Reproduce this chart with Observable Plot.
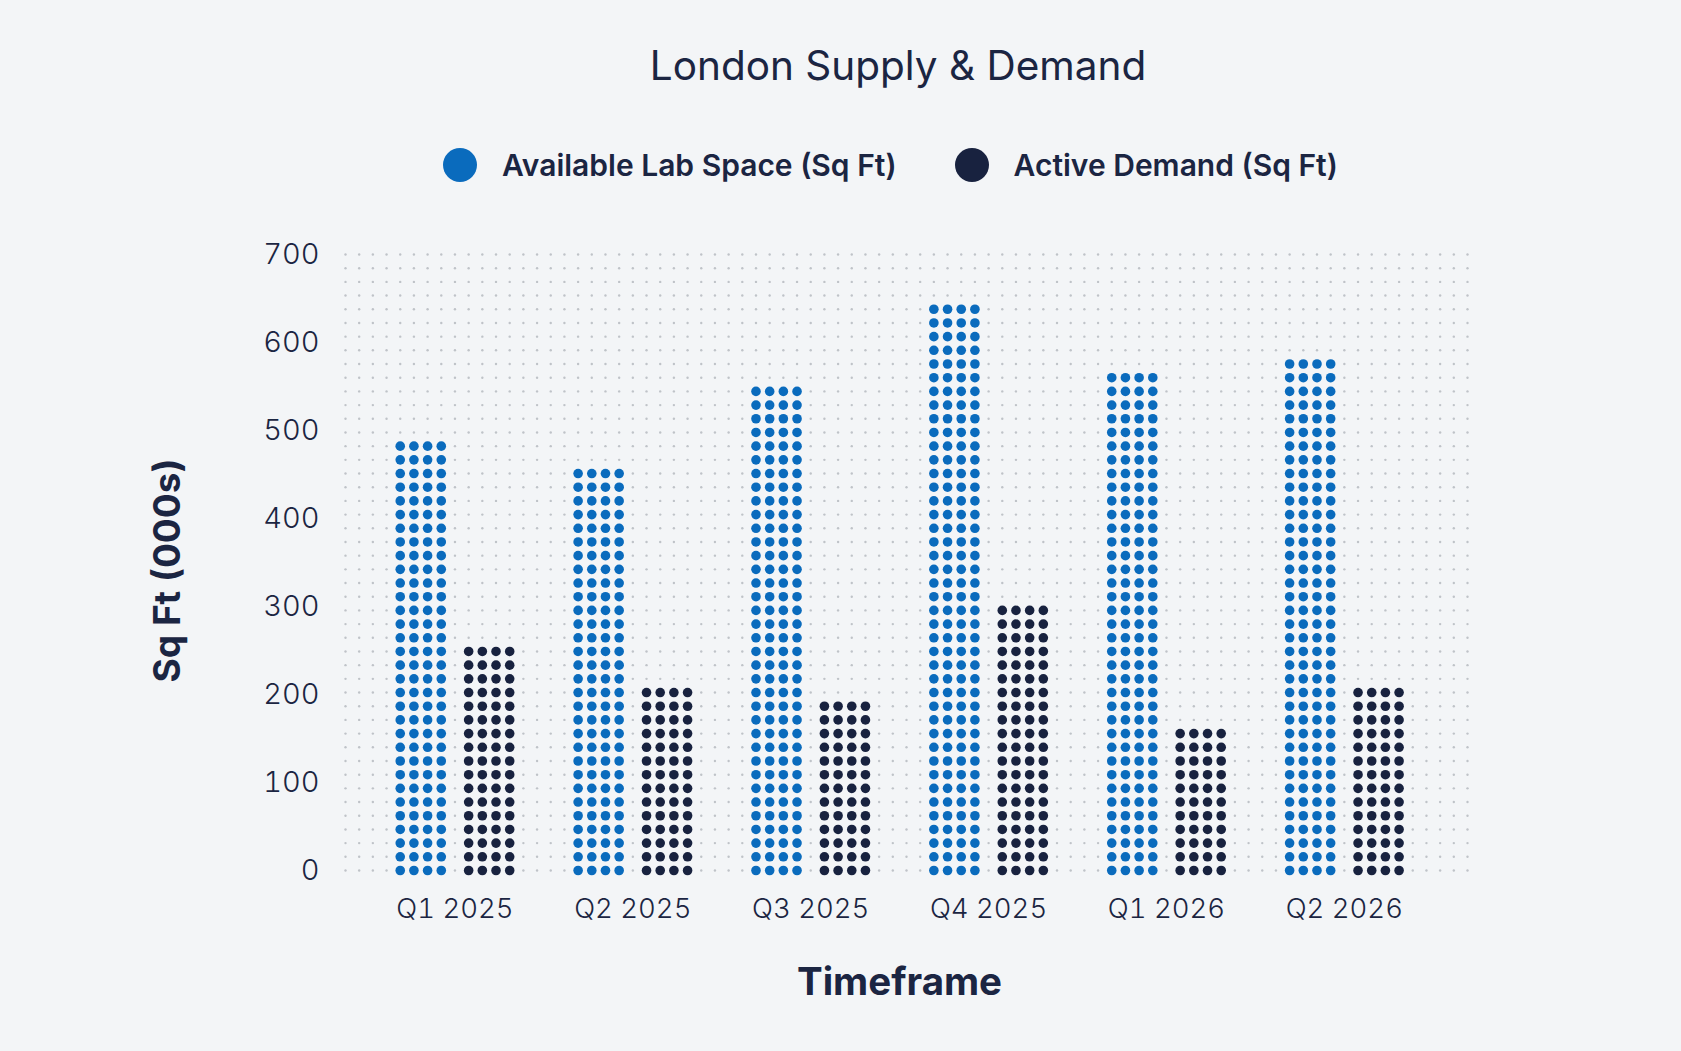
<!DOCTYPE html>
<html>
<head>
<meta charset="utf-8">
<script src="https://cdn.jsdelivr.net/npm/d3@7"></script>
<script src="https://cdn.jsdelivr.net/npm/@observablehq/plot@0.6"></script>
<style>
  html, body { margin: 0; padding: 0; background: #f3f5f7; }
  #wrap { position: relative; width: 1681px; height: 1051px; background: #f3f5f7; font-family: Inter, "Noto Sans", sans-serif; color: #1b2542; overflow: hidden; }
  #title { position: absolute; left: 898px; top: 46px; transform: translateX(-50%); font-size: 40.5px; line-height: 40px; font-weight: 400; white-space: nowrap; }
  #legend { position: absolute; left: 443px; top: 149px; display: flex; align-items: center; height: 32px; font-size: 30px; font-weight: 600; white-space: nowrap; }
  .item { display: flex; align-items: center; margin-right: 58px; }
  .sw { width: 34px; height: 34px; border-radius: 50%; margin-right: 25px; }
  #chart { position: absolute; left: 0; top: 200px; }
</style>
</head>
<body>
<div id="wrap">
  <div id="title"></div>
  <div id="legend"></div>
  <div id="chart"></div>
</div>
<script>
// ---- data ----
const titleText = "London Supply & Demand";
const quarters = ["Q1 2025", "Q2 2025", "Q3 2025", "Q4 2025", "Q1 2026", "Q2 2026"];
const availableLab = [485, 455, 545, 640, 560, 580];
const activeDemand = [250, 205, 190, 300, 160, 205];
const seriesNames = ["Available Lab Space (Sq Ft)", "Active Demand (Sq Ft)"];
const seriesColors = ["#0a6bbd", "#18223f"];
const yTicks = [0, 100, 200, 300, 400, 500, 600, 700];
const yLabel = "Sq Ft (000s)";
const xLabel = "Timeframe";

// ---- layout of the dot matrix ----
const Y_MAX = 700, ROWS = 45;          // 45 dot rows span 0..700
const UNIT = Y_MAX / ROWS;
const TOTAL_COLS = 82, FIRST_COL = 4, GROUP_COLS = 13, BAR_COLS = 4;

const seriesValues = [availableLab, activeDemand];
const dots = [];
quarters.forEach((q, i) => {
  seriesValues.forEach((vals, s) => {
    const start = FIRST_COL + i * GROUP_COLS + s * (BAR_COLS + 1);
    const top = Math.round(vals[i] / UNIT);
    for (let r = 0; r <= top; r++)
      for (let c = 0; c < BAR_COLS; c++)
        dots.push({x: start + c, y: r * UNIT, series: seriesNames[s]});
  });
});
const grid = [];
for (let c = 0; c <= TOTAL_COLS; c++)
  for (let r = 0; r <= ROWS; r++) grid.push({x: c, y: r * UNIT});

const groupCenters = quarters.map((q, i) => FIRST_COL + i * GROUP_COLS + BAR_COLS);
const centerLabel = new Map(groupCenters.map((c, i) => [c, quarters[i]]));

// ---- title and legend ----
document.getElementById("title").textContent = titleText;
const legend = document.getElementById("legend");
seriesNames.forEach((name, i) => {
  const it = document.createElement("div");
  it.className = "item";
  const sw = document.createElement("div");
  sw.className = "sw";
  sw.style.background = seriesColors[i];
  const tx = document.createElement("span");
  tx.textContent = name;
  it.appendChild(sw); it.appendChild(tx);
  legend.appendChild(it);
});

// ---- chart ----
const chart = Plot.plot({
  width: 1681,
  height: 851,
  marginLeft: 345,
  marginRight: 214,
  marginTop: 54,
  marginBottom: 181,
  style: {background: "transparent", fontFamily: "Inter, 'Noto Sans', sans-serif", color: "#1b2542", overflow: "visible"},
  x: {domain: [0, TOTAL_COLS], axis: null},
  y: {domain: [0, Y_MAX], axis: null},
  color: {domain: seriesNames, range: seriesColors},
  marks: [
    Plot.dot(grid, {x: "x", y: "y", r: 1.2, fill: "#bfc3c8"}),
    Plot.dot(dots, {x: "x", y: "y", r: 4.8, fill: "series"}),
    Plot.axisY(yTicks, {tickSize: 0, tickPadding: 26, fontSize: 29, fontWeight: 300, label: null}),
    Plot.axisX(groupCenters, {tickSize: 0, tickPadding: 28, fontSize: 27.5, fontWeight: 300, label: null,
      tickFormat: (d) => centerLabel.get(d)}),
    Plot.text([yLabel], {frameAnchor: "left", textAnchor: "middle", dx: -177, dy: 8, rotate: -90,
      fontSize: 37, fontWeight: 700, fill: "#1b2542", letterSpacing: "3.5px"}),
    Plot.text([xLabel], {frameAnchor: "bottom", dx: -7, dy: 124, fontSize: 38.5, fontWeight: 700, fill: "#1b2542"})
  ]
});
document.getElementById("chart").appendChild(chart);
</script>
</body>
</html>
